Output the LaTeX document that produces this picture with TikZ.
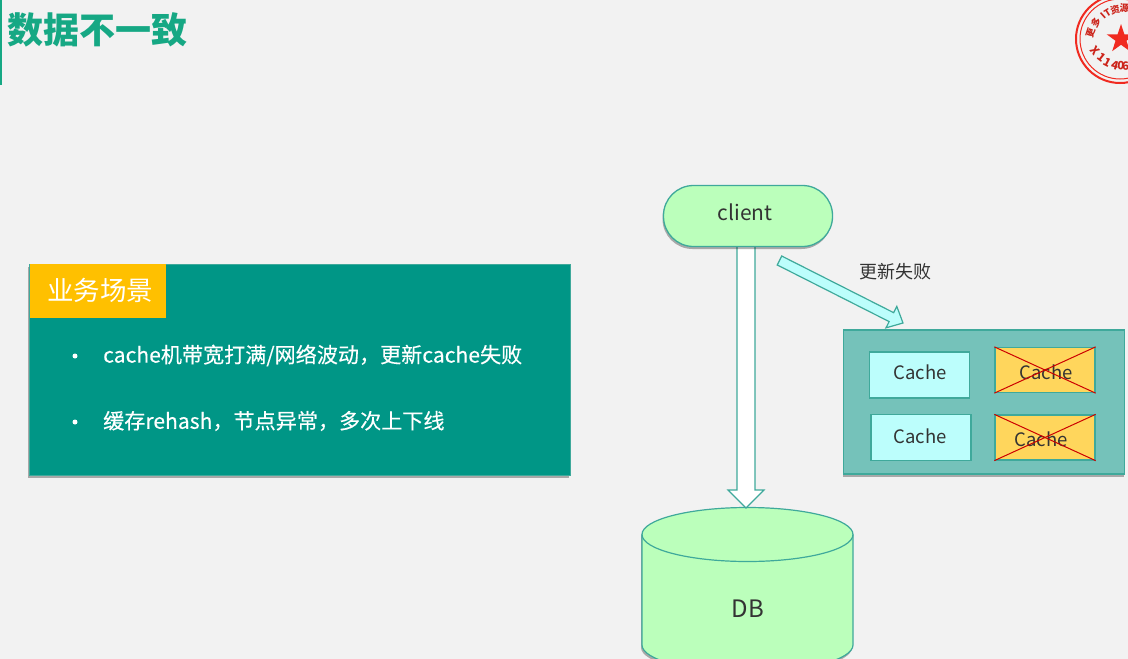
\documentclass[tikz,border=0pt]{standalone}
\usepackage{fontspec}
\setmainfont{Noto Sans CJK SC}
\newfontfamily\medfont[FakeBold=0.25]{Noto Sans CJK SC}
\usetikzlibrary{calc,shadows,shapes.geometric}
\definecolor{bgc}{HTML}{F2F2F2}
\definecolor{tealline}{HTML}{3FA99B}
\definecolor{mint}{HTML}{BBFFBB}
\definecolor{aqua}{HTML}{BCFEFC}
\definecolor{groupc}{HTML}{75C2BA}
\definecolor{amber}{HTML}{FFD65C}
\definecolor{panel}{HTML}{009686}
\definecolor{tabc}{HTML}{FFC000}
\definecolor{titlec}{HTML}{16A884}
\definecolor{stamp}{HTML}{F02A20}
\definecolor{inkc}{HTML}{333333}
\tikzset{
  softshadow/.style={drop shadow={shadow xshift=-1pt,shadow yshift=-2.5pt,opacity=.3,fill=black}},
  cachebox/.style={draw=tealline,line width=1.3pt,fill=aqua,minimum width=100pt,minimum height=46pt,inner sep=0pt},
  deadbox/.style={cachebox,fill=amber},
  cachetext/.style={text=inkc,inner sep=0pt,font=\fontsize{18.5}{19}\selectfont},
  crossline/.style={draw=red!80!black,line width=1pt},
  bodytext/.style={text=white,anchor=west,inner sep=0pt,font=\medfont\fontsize{21.1}{21}\selectfont},
  bulletmark/.style={fill=white,circle,inner sep=0pt,minimum size=5pt},
  hollow/.style={draw=tealline,line width=1.2pt,line join=miter},
  stamptext/.style={text=stamp!85!black,inner sep=0pt,font=\bfseries\fontsize{9.5}{10}\selectfont},
  stampnum/.style={stamptext,font=\bfseries\fontsize{11.5}{12}\selectfont},
}
% #1 style, #2 start, #3 tip, #4 half shaft, #5 half head, #6 head length
\newcommand\fatarrow[6]{%
  \coordinate (fa) at ($(#3)!#6pt!(#2)$);
  \draw[hollow,#1] ($(#2)!#4pt!90:(#3)$) -- ($(fa)!#4pt!90:(#3)$) -- ($(fa)!#5pt!90:(#3)$) -- (#3)
    -- ($(fa)!#5pt!-90:(#3)$) -- ($(fa)!#4pt!-90:(#3)$) -- ($(#2)!#4pt!-90:(#3)$) -- cycle;
}
\begin{document}
\begin{tikzpicture}[x=1pt,y=-1pt]
\useasboundingbox (0,0) rectangle (1128,659);
\clip (0,0) rectangle (1128,659);
\fill[bgc] (0,0) rectangle (1128,659);

% title
\fill[titlec] (0,0) rectangle (1.5,85);
\node[text=titlec,anchor=west,inner sep=0pt,font=\bfseries\fontsize{36}{36}\selectfont] (title) at (7,30) {数据不一致};

% stamp
\draw[stamp,line width=2pt] (1120,39) circle (44);
\draw[stamp,line width=1pt] (1120,39) circle (40);
\node[star,star points=5,star point ratio=2.6,fill=stamp,inner sep=0pt,minimum size=30pt] (stamp star) at (1121,39) {};
\node[stamptext,rotate=72] (s1) at (1090.5,33) {更};
\node[stamptext,rotate=55] (s2) at (1096,23) {多};
\node[stamptext,rotate=42] (s3) at (1103,15.5) {I};
\node[stamptext,rotate=32] (s4) at (1107.5,12.5) {T};
\node[stamptext,rotate=14] (s5) at (1115,9.5) {资};
\node[stamptext,rotate=-2] (s6) at (1124.5,8.5) {源};
\node[stampnum,rotate=-50] (s7) at (1095,51) {X};
\node[stampnum,rotate=-38] (s8) at (1102,57) {1};
\node[stampnum,rotate=-28] (s9) at (1108,62) {1};
\node[stampnum,rotate=-16] (s10) at (1115,65) {4};
\node[stampnum,rotate=-4] (s11) at (1121,66) {0};
\node[stampnum,rotate=4] (s12) at (1125.5,66) {6};

% panel
\node[fill=panel,draw=tealline,line width=.6pt,softshadow,minimum width=541pt,minimum height=211pt,inner sep=0pt] (panelbox) at (299.5,370) {};
\node[fill=tabc,minimum width=136pt,minimum height=54pt,inner sep=0pt] (tab) at (98,291) {};
\node[text=white,font=\fontsize{26.5}{27}\selectfont,inner sep=0pt] (tabtext) at (100,290.5) {业务场景};
\node[bulletmark] (b1) at (75,356) {};
\node[bulletmark] (b2) at (75,422) {};
\node[bodytext] (l1) at (103,355.5) {cache机带宽打满/网络波动，更新cache失败};
\node[bodytext] (l2) at (103,421) {缓存rehash，节点异常，多次上下线};

% database
\draw[draw=tealline,line width=1.2pt,fill=mint,softshadow] (642,534.5) -- (642,645) arc[start angle=180,end angle=0,x radius=105.5,y radius=27] -- (853,534.5) arc[start angle=0,end angle=-180,x radius=105.5,y radius=27] -- cycle;
\draw[draw=tealline,line width=1.2pt] (642,534.5) arc[start angle=180,end angle=0,x radius=105.5,y radius=27];
\node[text=inkc,font=\fontsize{24}{24}\selectfont,inner sep=0pt] (db) at (748,609) {DB};
\coordinate (dbtop) at (746,508);

% client and vertical arrow
\coordinate (clientfoot) at (746,240);
\fatarrow{fill=white}{clientfoot}{dbtop}{9}{18}{18}
\node[draw=tealline,line width=1.3pt,fill=mint,rounded corners=30pt,softshadow,minimum width=169pt,minimum height=61pt,inner sep=0pt] (client) at (748,216) {};
\node[text=inkc,font=\fontsize{21}{21}\selectfont,inner sep=0pt] (clienttext) at (745,212) {client};

% cache group
\node[fill=groupc,draw=tealline,line width=1.2pt,softshadow,minimum width=281pt,minimum height=144pt,inner sep=0pt] (group) at (984,402) {};
\coordinate (failstart) at (779.5,260.5);
\coordinate (failtip) at (903,323);
\fatarrow{fill=aqua}{failstart}{failtip}{5}{12}{13}
\node[text=inkc,font=\fontsize{18}{18}\selectfont,inner sep=0pt] (failtext) at (895,272) {更新失败};

\node[cachebox] (c1) at (919.5,375) {};
\node[cachebox] (c2) at (921,437.5) {};
\node[deadbox,minimum height=45pt] (c3) at (1045,370) {};
\node[deadbox,minimum height=45pt] (c4) at (1045,437.5) {};
\node[cachetext] (t1) at (920,372) {Cache};
\node[cachetext] (t2) at (920,436) {Cache};
\node[cachetext] (t3) at (1046,372) {Cache};
\node[cachetext] (t4) at (1041,439.5) {Cache};
\draw[crossline] (c3.north west) -- (c3.south east);
\draw[crossline] (c3.south west) -- (c3.north east);
\draw[crossline] (c4.north west) -- (c4.south east);
\draw[crossline] (c4.south west) -- (c4.north east);
\end{tikzpicture}
\end{document}
